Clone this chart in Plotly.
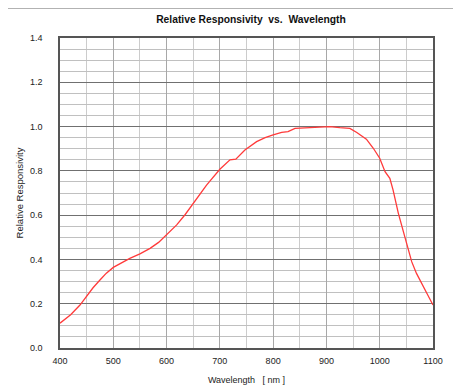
import plotly.graph_objects as go

wavelength = [400, 420, 437.5, 450, 462, 475, 487, 500, 515, 531, 550, 569, 585, 600,
              619, 635, 650, 675, 700, 719, 730, 747, 769, 785, 800, 816, 828, 841, 869,
              885, 906, 925, 944, 957, 975, 988, 1000, 1010, 1019, 1025, 1035, 1047,
              1060, 1069, 1085, 1100]
responsivity = [0.112, 0.150, 0.194, 0.235, 0.272, 0.307, 0.338, 0.364, 0.385, 0.405,
                0.425, 0.450, 0.477, 0.510, 0.556, 0.603, 0.653, 0.736, 0.807, 0.850,
                0.853, 0.894, 0.932, 0.950, 0.962, 0.974, 0.977, 0.992, 0.995, 0.997,
                1.000, 0.995, 0.992, 0.973, 0.943, 0.902, 0.857, 0.796, 0.766, 0.714,
                0.608, 0.503, 0.390, 0.337, 0.262, 0.194]

title_text = "Relative Responsivity  vs.  Wavelength"
x_title = "Wavelength   [ nm ]"
y_title = "Relative Responsivity"
x_ticks = [400, 500, 600, 700, 800, 900, 1000, 1100]
y_ticks = [0.0, 0.2, 0.4, 0.6, 0.8, 1.0, 1.2, 1.4]

# page body has an 8px default margin; compensate so the figure lands where the reference is
OFF = 8
W, H = 461 - OFF, 387 - OFF
L, T = 60 - OFF, 38 - OFF
PW, PH = 373, 310
R, B = W - L - PW, H - T - PH

fig = go.Figure()
fig.add_trace(go.Scatter(x=wavelength, y=responsivity, mode="lines",
                         line=dict(color="#ff3a3a", width=1.3), showlegend=False))

fam = "Liberation Sans, Arial, sans-serif"
font = dict(family=fam, size=9, color="#222")

fig.update_layout(
    width=W, height=H,
    margin=dict(l=L, r=R, t=T, b=B, autoexpand=False),
    paper_bgcolor="white", plot_bgcolor="white",
    title=dict(text="<b>" + title_text + "</b>", x=(251 - OFF) / W, xanchor="center",
               y=1 - (19 - OFF) / H, yanchor="middle",
               font=dict(family=fam, size=10.3, color="#111")),
    xaxis=dict(range=[400, 1100], tickvals=x_ticks, ticktext=[str(v) for v in x_ticks],
               showgrid=True, gridcolor="#a8a8a8", gridwidth=1,
               minor=dict(dtick=50, tick0=400, showgrid=True, gridcolor="#cccccc", gridwidth=1),
               showline=True, linecolor="#555", linewidth=1.5, mirror=True,
               ticks="", ticklabelstandoff=3, tickfont=font, zeroline=False, automargin=False,
               title=dict(text=x_title, font=dict(family=fam, size=9, color="#222"), standoff=12)),
    yaxis=dict(range=[0, 1.4], tickvals=y_ticks, ticktext=["%.1f" % v for v in y_ticks],
               showgrid=True, gridcolor="#707070", gridwidth=1,
               minor=dict(dtick=0.05, tick0=0, showgrid=True, gridcolor="#c0c0c0", gridwidth=1),
               showline=True, linecolor="#555", linewidth=1.5, mirror=True,
               ticks="", ticklabelstandoff=14, tickfont=font, zeroline=False, automargin=False,
               title=dict(text=y_title, font=dict(family=fam, size=9.5, color="#222"), standoff=5)),
    shapes=[dict(type="rect", xref="paper", yref="paper",
                 x0=(6 - 60) / PW, x1=(480 - 60) / PW,
                 y0=(348 - 400) / PH, y1=(348 - 8) / PH,
                 line=dict(color="#999", width=1.5), fillcolor="rgba(0,0,0,0)", layer="below")],
)

fig.write_html("out.html")
